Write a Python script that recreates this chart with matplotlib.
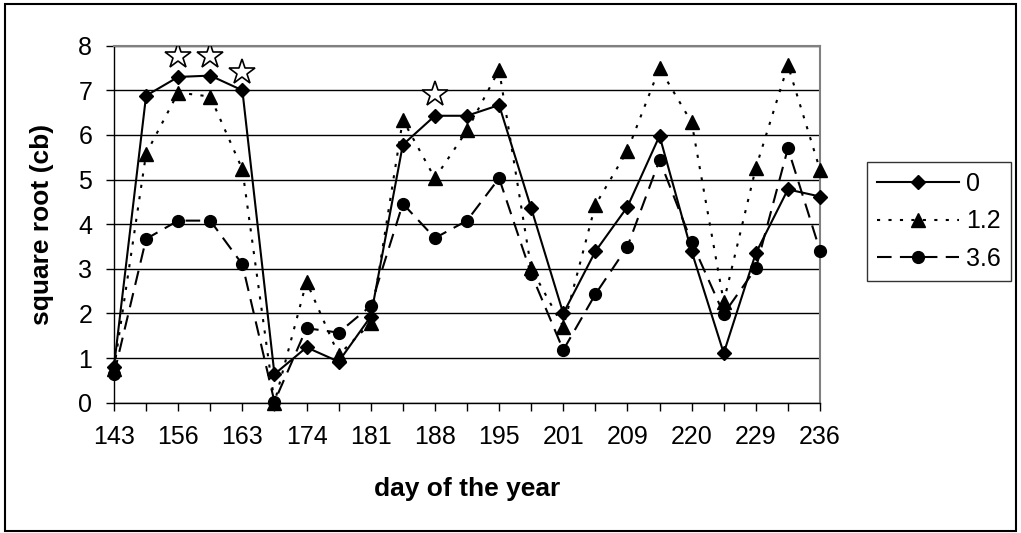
import numpy as np
import matplotlib.pyplot as plt
from matplotlib.patches import Rectangle

plt.rcParams['font.family'] = ['Liberation Sans', 'DejaVu Sans']

# tick labels (every other sampling day is labelled)
day_labels = ['143', '156', '163', '174', '181', '188', '195', '201', '209', '220', '229', '236']

# series values, one per sampling date (23 dates)
s_0 = [0.81, 6.88, 7.30, 7.33, 7.00, 0.64, 1.24, 0.92, 1.93, 5.78, 6.43, 6.43,
       6.67, 4.36, 2.00, 3.39, 4.39, 5.98, 3.39, 1.11, 3.35, 4.78, 4.62]
s_12 = [0.75, 5.58, 6.95, 6.86, 5.23, 0.00, 2.71, 1.07, 1.78, 6.34, 5.03, 6.10,
        7.46, 3.01, 1.70, 4.43, 5.65, 7.50, 6.28, 2.26, 5.26, 7.56, 5.22]
s_36 = [0.64, 3.67, 4.08, 4.08, 3.10, 0.02, 1.67, 1.57, 2.17, 4.46, 3.69, 4.08,
        5.03, 2.89, 1.18, 2.43, 3.50, 5.44, 3.60, 1.99, 3.01, 5.70, 3.41]

# significance stars (date index, height)
star_idx = [2, 3, 4, 10]
star_val = [7.76, 7.76, 7.40, 6.91]

x = np.arange(len(s_0))

W, H = 1021, 533
fig = plt.figure(figsize=(W / 100, H / 100), dpi=100)
ax = fig.add_axes([114 / W, 1 - 402.7 / H, (820 - 114) / W, (402.7 - 45.7) / H])

ax.set_axisbelow(True)
ax.yaxis.grid(True, color='black', lw=1)

ax.plot(x, s_0, color='black', lw=1.5, ls='-', marker='D', ms=7, label='0', clip_on=False, zorder=4)
ax.plot(x, s_12, color='black', lw=1.5, ls=(0, (1.5, 4)), marker='^', ms=10, label='1.2', clip_on=False, zorder=3)
ax.plot(x, s_36, color='black', lw=1.5, ls=(0, (7, 4)), marker='o', ms=8.5, label='3.6', clip_on=False, zorder=3)
ax.plot(star_idx, star_val, ls='none', marker='*', ms=19, mfc='white', mec='black', mew=1.2, zorder=5)

ax.set_xlim(0, len(x) - 1)
ax.set_ylim(0, 8)
ax.set_yticks(range(0, 9))
ax.set_xticks(x)
ax.set_xticklabels([day_labels[i // 2] if i % 2 == 0 else '' for i in x])
ax.tick_params(axis='both', direction='out', length=5.7, width=1, color='black', labelsize=18)
ax.tick_params(axis='x', pad=10)
ax.tick_params(axis='y', pad=10)

for s in ['top', 'right']:
    ax.spines[s].set_color('#808080')
    ax.spines[s].set_linewidth(1.5)
for s in ['left', 'bottom']:
    ax.spines[s].set_color('black')
    ax.spines[s].set_linewidth(1)

ax.set_xlabel('day of the year', fontsize=19, fontweight='bold', va='center')
ax.xaxis.set_label_coords(0.5, (402.7 - 489) / 357)
ax.set_ylabel('square root (cb)', fontsize=19, fontweight='bold', va='center')
ax.yaxis.set_label_coords((42 - 114) / 706, 0.5)

leg = ax.legend(loc='upper left', bbox_to_anchor=(866.7 / W, 1 - 161.7 / H),
                bbox_transform=fig.transFigure, fontsize=18, frameon=True, fancybox=False,
                edgecolor='black', handlelength=3.3, handletextpad=0.28, labelspacing=0.55,
                borderpad=0.4, borderaxespad=0)
leg.get_frame().set_linewidth(1)

# outer chart border
fig.patches.append(Rectangle((5 / W, 2 / H), 1011 / W, 527 / H, transform=fig.transFigure,
                             fill=False, edgecolor='black', lw=1.5))

fig.savefig('out.png', dpi=100)
